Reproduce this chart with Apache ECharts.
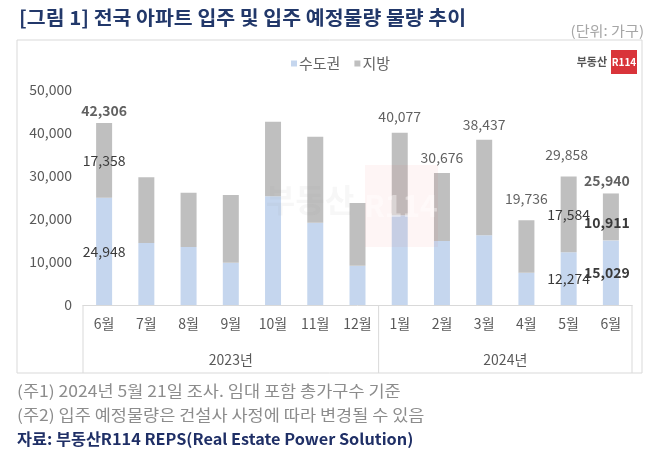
<!DOCTYPE html>
<html><head><meta charset="utf-8">
<script src="https://cdn.jsdelivr.net/npm/echarts@6/dist/echarts.min.js"></script>
<style>html,body{margin:0;padding:0;background:#fff}#c{width:658px;height:453px}</style>
</head><body><div id="c"></div>
<script>
const categories = ['6월','7월','8월','9월','10월','11월','12월','1월','2월','3월','4월','5월','6월'];
const years = ['2023년','2024년'];
const yearSpans = [7, 6];
const seriesNames = ['수도권','지방'];
const metro = [24948,14400,13500,9800,25300,19100,9100,20900,14900,16200,7500,12274,15029];
const local = [17358,15300,12600,15800,17300,20000,14600,19177,15776,22237,12236,17584,10911];
const totals = [42306,null,null,null,null,null,null,40077,30676,38437,19736,29858,25940];
const segLabelIdx = [0, 11, 12];
const yMin = 0, yMax = 50000, yStep = 10000;
const titleText = '[그림 1] 전국 아파트 입주 및 입주 예정물량 물량 추이';
const unitText = '(단위: 가구)';
const note1 = '(주1) 2024년 5월 21일 조사. 임대 포함 총가구수 기준';
const note2 = '(주2) 입주 예정물량은 건설사 사정에 따라 변경될 수 있음';
const sourceText = '자료: 부동산R114 REPS(Real Estate Power Solution)';

const FONT = '"Noto Sans CJK KR", "Noto Sans", sans-serif';
const fmt = v => v.toLocaleString('en-US');
const boldSeg = i => i === 12;
const boldTot = i => i === 0 || i === 12;

function segData(arr, isLocal) {
  return arr.map((v, i) => {
    const show = segLabelIdx.includes(i);
    const item = { value: v, label: { show: show } };
    if (show) {
      item.label.fontWeight = boldSeg(i) ? 'bold' : 'normal';
      if (i === 12) item.label.offset = [-4, isLocal ? 6 : 0];
    }
    return item;
  });
}
function totData() {
  const out = [];
  totals.forEach((v, i) => {
    if (v == null) return;
    const item = { value: [i, v], label: { fontWeight: boldTot(i) ? 'bold' : 'normal' } };
    if (i === 10 || i === 11) item.label.distance = 14;
    if (i === 0 || i === 12) item.label.distance = 5;
    if (i === 12) item.label.offset = [-4, 0];
    if (i === 11) item.label.offset = [-2, 0];
    out.push(item);
  });
  return out;
}

const chart = echarts.init(document.getElementById('c'), null, { renderer: 'canvas' });
const option = {
  animation: false,
  textStyle: { fontFamily: FONT },
  grid: { left: 83, right: 26, top: 90, bottom: 148, containLabel: false },
  legend: {
    data: seriesNames, top: 51, left: 286, icon: 'rect', itemWidth: 6, itemHeight: 6, itemGap: 14,
    textStyle: { fontSize: 15, color: '#666', fontFamily: FONT, padding: [0, 0, 0, -3] }
  },
  xAxis: {
    type: 'category', data: categories,
    axisLine: { lineStyle: { color: '#d9d9d9' } },
    axisTick: { show: false },
    axisLabel: { color: '#595959', fontSize: 14, margin: 12, fontFamily: FONT }
  },
  yAxis: {
    type: 'value', min: yMin, max: yMax, interval: yStep,
    splitLine: { show: false }, axisLine: { show: false }, axisTick: { show: false },
    axisLabel: { color: '#595959', fontSize: 14, margin: 11, formatter: v => fmt(v), fontFamily: FONT }
  },
  series: [
    { name: seriesNames[0], type: 'bar', stack: 't', barWidth: 16, data: segData(metro, false),
      itemStyle: { color: '#c5d6ee' },
      label: { position: 'inside', color: '#3a3a3a', fontSize: 14, formatter: p => fmt(p.value), fontFamily: FONT } },
    { name: seriesNames[1], type: 'bar', stack: 't', barWidth: 16, data: segData(local, true),
      itemStyle: { color: '#bfbfbf' },
      label: { position: 'inside', color: '#3a3a3a', fontSize: 14, formatter: p => fmt(p.value), fontFamily: FONT } },
    { name: 'total', type: 'scatter', data: totData(), symbolSize: 1, silent: true,
      itemStyle: { color: 'rgba(0,0,0,0)' },
      label: { show: true, position: 'top', distance: 8, color: '#3a3a3a', fontSize: 14,
        formatter: p => fmt(p.value[1]), fontFamily: FONT } }
  ]
};
chart.setOption(option);

const px = i => chart.convertToPixel({ xAxisIndex: 0 }, i);
const step = px(1) - px(0);
const y0 = chart.convertToPixel({ yAxisIndex: 0 }, 0);
const frameBottom = 373;
const g = [];
g.push({ type: 'rect', z: 0, shape: { x: 17, y: 40, width: 625, height: frameBottom - 40 },
  style: { fill: 'none', stroke: '#d9d9d9', lineWidth: 1 } });
let start = 0;
const leftB = px(0) - step / 2;
g.push({ type: 'line', shape: { x1: leftB, y1: y0, x2: leftB, y2: frameBottom }, style: { stroke: '#d9d9d9', lineWidth: 1 } });
years.forEach((yr, k) => {
  const end = start + yearSpans[k] - 1;
  const xl = px(start) - step / 2, xr = px(end) + step / 2;
  g.push({ type: 'line', shape: { x1: xr, y1: y0, x2: xr, y2: frameBottom }, style: { stroke: '#d9d9d9', lineWidth: 1 } });
  g.push({ type: 'text', x: (xl + xr) / 2, y: 360,
    style: { text: yr, fill: '#595959', font: '14px ' + FONT, textAlign: 'center', textVerticalAlign: 'middle' } });
  start = end + 1;
});
g.push({ type: 'text', x: 19, y: 18, scaleX: 1.08, style: { text: titleText, fill: '#22386a', font: 'bold 19px ' + FONT, textVerticalAlign: 'middle' } });
g.push({ type: 'text', x: 644, y: 31, scaleX: 1.08, style: { text: unitText, fill: '#a6a6a6', font: '14px ' + FONT, textAlign: 'right', textVerticalAlign: 'middle' } });
g.push({ type: 'text', x: 17, y: 391, scaleX: 1.13, style: { text: note1, fill: '#8c8c8c', font: '15.5px ' + FONT, textVerticalAlign: 'middle' } });
g.push({ type: 'text', x: 17, y: 415, scaleX: 1.13, style: { text: note2, fill: '#8c8c8c', font: '15.5px ' + FONT, textVerticalAlign: 'middle' } });
g.push({ type: 'text', x: 17, y: 439, scaleX: 1.05, style: { text: sourceText, fill: '#1f2f66', font: 'bold 15.5px ' + FONT, textVerticalAlign: 'middle' } });
g.push({ type: 'text', x: 607, y: 62, style: { text: '부동산', fill: '#555', font: 'bold 11px ' + FONT, textAlign: 'right', textVerticalAlign: 'middle' } });
g.push({ type: 'rect', shape: { x: 611, y: 50, width: 26, height: 24 }, style: { fill: '#d9343a' } });
g.push({ type: 'text', x: 624, y: 62, style: { text: 'R114', fill: '#fff', font: 'bold 10px ' + FONT, textAlign: 'center', textVerticalAlign: 'middle' } });
g.push({ type: 'text', z: 50, x: 310, y: 200, style: { text: '부동산', fill: 'rgba(150,150,150,0.08)', font: 'bold 32px ' + FONT, textAlign: 'center', textVerticalAlign: 'middle' } });
g.push({ type: 'rect', z: 50, shape: { x: 365, y: 165, width: 73, height: 82 }, style: { fill: 'rgba(230,60,60,0.05)' } });
g.push({ type: 'text', z: 51, x: 401, y: 206, style: { text: 'R114', fill: 'rgba(255,255,255,0.4)', font: 'bold 30px ' + FONT, textAlign: 'center', textVerticalAlign: 'middle' } });

chart.setOption({ graphic: g });
</script></body></html>
